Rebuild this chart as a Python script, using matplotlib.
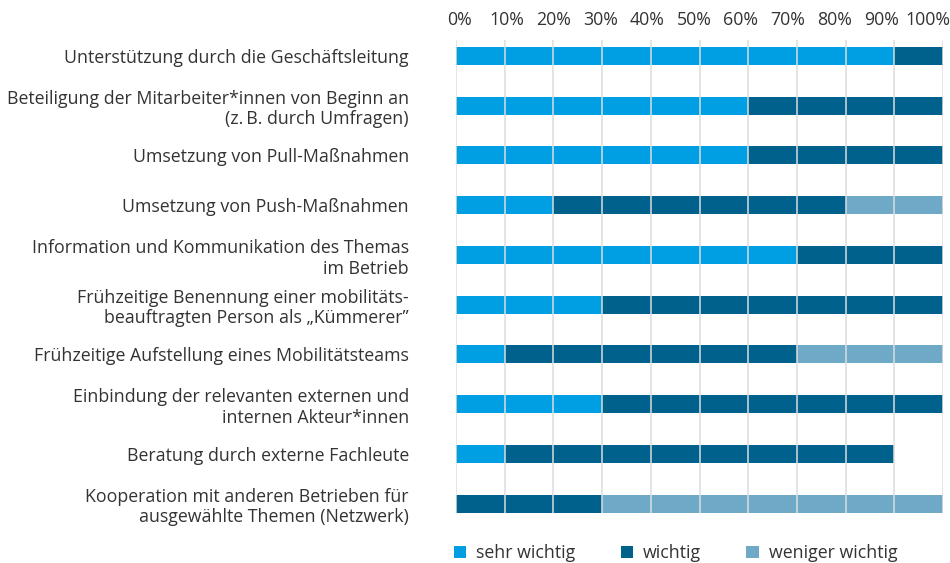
import matplotlib.pyplot as plt
from matplotlib.patches import Patch
import numpy as np

plt.rcParams['font.family'] = ['Open Sans', 'DejaVu Sans']

# Data (percent of respondents)
categories = [
    'Unterstützung durch die Geschäftsleitung',
    'Beteiligung der Mitarbeiter*innen von Beginn an\n(z.\u2009B. durch Umfragen)',
    'Umsetzung von Pull-Maßnahmen',
    'Umsetzung von Push-Maßnahmen',
    'Information und Kommunikation des Themas\nim Betrieb',
    'Frühzeitige Benennung einer mobilitäts-\nbeauftragten Person als \u201eKümmerer\u201d',
    'Frühzeitige Aufstellung eines Mobilitätsteams',
    'Einbindung der relevanten externen und\ninternen Akteur*innen',
    'Beratung durch externe Fachleute',
    'Kooperation mit anderen Betrieben für\nausgewählte Themen (Netzwerk)',
]
sehr_wichtig = [90, 60, 60, 20, 70, 30, 10, 30, 10, 0]
wichtig = [10, 40, 40, 60, 30, 70, 60, 70, 80, 30]
weniger_wichtig = [0, 0, 0, 20, 0, 0, 30, 0, 0, 70]
series_names = ['sehr wichtig', 'wichtig', 'weniger wichtig']
colors = ['#009fe3', '#00628c', '#6eaac8']
xticks = np.arange(0, 101, 10)

fig = plt.figure(figsize=(9.5, 5.63), dpi=100)
ax = fig.add_axes([456/950, 1 - 513/563, 487/950, (513 - 40)/563])

y = np.arange(len(categories))
left = np.zeros(len(categories))
for vals, col in zip([sehr_wichtig, wichtig, weniger_wichtig], colors):
    vals = np.array(vals)
    ax.barh(y, vals, left=left, height=0.36, color=col, zorder=1)
    left += vals

# light gridlines over bars
for t in xticks:
    ax.axvline(t, color='#dcdcdc', lw=1.1, zorder=2)

ax.set_xlim(0, 100)
ax.set_ylim(9 + 0.19, -0.32)
ax.set_xticks([])
ax.set_yticks(y)
ax.set_yticklabels(categories, fontsize=12.8, color='#333333', linespacing=1.2,
                   ha='right')
ax.tick_params(axis='y', length=0, pad=34)
for s in ax.spines.values():
    s.set_visible(False)

# percent scale on top is slightly compressed in the original so 100% fits
top = ax.twiny()
top.set_xlim(-0.85, 103.2)
top.set_xticks(xticks)
top.set_xticklabels([f'{t}%' for t in xticks])
top.tick_params(axis='x', length=0, pad=8, labelsize=12.8, labelcolor='#333333')
for s in top.spines.values():
    s.set_visible(False)

handles = [Patch(facecolor=c, edgecolor='none') for c in colors]
fig.legend(handles, series_names, loc='center left', ncol=3, frameon=False,
           bbox_to_anchor=(438/950, 1 - 553/563), fontsize=12.8,
           handlelength=0.7, handleheight=0.7, handletextpad=0.55,
           columnspacing=2.55, labelcolor='#333333')

fig.savefig('out.png', dpi=100)
